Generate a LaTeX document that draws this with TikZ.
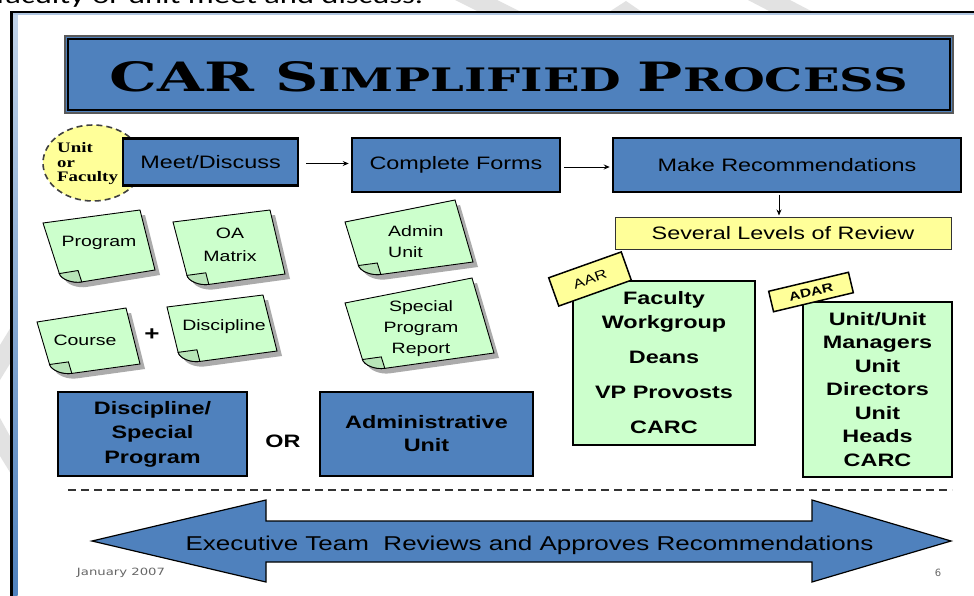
\documentclass[tikz,border=0pt]{standalone}
\usepackage{fontspec}
\usepackage{graphicx}
\usetikzlibrary{calc,arrows.meta,shapes.geometric}

\newfontfamily\aw{Liberation Sans}[FakeStretch=1.3]
\newfontfamily\tw{Liberation Serif}[FakeStretch=1.3]
\newfontfamily\cw{Carlito}
\newfontfamily\vw{DejaVu Sans}
\newfontfamily\dw{DejaVu Serif}

\definecolor{slideblue}{HTML}{4F81BD}
\definecolor{notegreen}{HTML}{CCFFCC}
\definecolor{tagyellow}{HTML}{FFFF99}
\definecolor{wmgray}{HTML}{E2E2E2}

\tikzset{
  procbox/.style={draw=black, line width=2.5pt, fill=slideblue, inner sep=0pt,
    font=\aw\fontsize{18}{22}\selectfont},
  basebox/.style={draw=black, line width=2pt, fill=slideblue, inner sep=0pt,
    align=center, font=\aw\bfseries\fontsize{18}{24.5}\selectfont},
  reviewbox/.style={draw=black, line width=2pt, fill=notegreen, inner sep=0pt,
    align=center},
  tagbox/.style={draw=black, line width=1.5pt, fill=tagyellow, inner sep=0pt},
  notetext/.style={font=\aw\fontsize{15}{21}\selectfont, align=center, inner sep=0pt},
  noteline/.style={draw=black, line width=0.9pt},
  flowarrow/.style={-{Stealth[length=6pt,width=5pt]}, line width=0.9pt},
}

% tilted sticky note: corners top-left, top-right, bottom-right, bottom-left
\newcommand\stickynote[4]{%
  \coordinate (sTL) at #1;
  \coordinate (sTR) at #2;
  \coordinate (sBR) at #3;
  \coordinate (sBL) at #4;
  \coordinate (sA) at ($(sBL)!19pt!(sBR)$);
  \coordinate (sB) at ($(sBL)!12pt!(sTL)$);
  \coordinate (sC) at ($(sA)+(sB)-(sBL)$);
  \fill[black!55, opacity=0.6, transform canvas={shift={(5pt,-5pt)}}]
    (sTL) -- (sTR) -- (sBR) -- (sA)
    .. controls ($(sA)!0.5!(sBL)$) and ($(sB)!0.5!(sBL)$) .. (sB) -- cycle;
  \path[noteline, fill=notegreen]
    (sTL) -- (sTR) -- (sBR) -- (sA)
    .. controls ($(sA)!0.5!(sBL)$) and ($(sB)!0.5!(sBL)$) .. (sB) -- cycle;
  \path[noteline, fill=notegreen!90!black]
    (sB) -- (sC) -- (sA)
    .. controls ($(sA)!0.5!(sBL)$) and ($(sB)!0.5!(sBL)$) .. (sB) -- cycle;
}

\begin{document}
\begin{tikzpicture}[x=1pt, y=-1pt]
\useasboundingbox (0,0) rectangle (974,596);
\fill[white] (0,0) rectangle (974,596);

% faint watermark strokes behind the slide
\fill[wmgray] (455,0) -- (497,0) -- (521,12) -- (479,12) -- cycle;
\fill[wmgray] (609,12) -- (626,1) -- (642,12) -- cycle;
\fill[wmgray] (748,0) -- (790,0) -- (813,12) -- (771,12) -- cycle;
\fill[wmgray] (0,345) -- (11,327) -- (11,362) -- (0,380) -- cycle;
\fill[wmgray] (0,418) -- (11,438) -- (11,474) -- (0,456) -- cycle;

% line of text above the slide
\node[anchor=base west, inner sep=0pt, font=\cw\fontsize{24}{24}\selectfont] (caption) at (-4,4)
  {\resizebox{427pt}{\height}{faculty or unit meet and discuss.}};

% slide
\fill[white] (12,12) rectangle (990,610);
\shade[top color=slideblue!35!white, bottom color=slideblue] (13,14) rectangle (17.5,600);
\fill[slideblue!45!white] (13,13) rectangle (990,14.8);
\draw[black, line width=3.2pt] (11.6,610) -- (11.6,12);
\draw[black, line width=2.2pt] (10,12) -- (990,12);

% title banner
\node[fill=slideblue, draw=black!65, line width=1.2pt, minimum width=888pt, minimum height=77pt,
  inner sep=0pt] (banner) at (509,74.5) {};
\draw[black, line width=2.6pt] ([shift={(3.5pt,-3.5pt)}]banner.north west) rectangle ([shift={(-3.5pt,3.5pt)}]banner.south east);
\node[inner sep=0pt, font=\dw\bfseries] (title) at (509,77)
  {\resizebox{798pt}{30pt}{\fontsize{40}{40}\selectfont CAR S\fontsize{32}{32}\selectfont IMPLIFIED
   \fontsize{40}{40}\selectfont P\fontsize{32}{32}\selectfont ROCESS}};

% who meets
\node[ellipse, draw=black!75, dash pattern=on 6pt off 4pt, line width=1.6pt, fill=tagyellow,
  minimum width=100pt, minimum height=76pt, inner sep=0pt] (who) at (93,163) {};
\node[anchor=west, align=left, inner sep=0pt, font=\tw\bfseries\fontsize{14.5}{14.5}\selectfont]
  (whotext) at (57,164) {Unit\\or\\Faculty};

% main process steps
\node[procbox, minimum width=175pt, minimum height=47pt] (meet) at (210.5,162) {Meet/Discuss};
\node[procbox, minimum width=208pt, minimum height=54pt] (forms) at (456,165) {Complete Forms};
\node[procbox, minimum width=348pt, minimum height=54pt] (recs) at (787,165) {Make Recommendations};
\node[draw=black!80, line width=1pt, fill=tagyellow, minimum width=336pt, minimum height=32pt,
  inner sep=0pt, font=\aw\fontsize{18}{22}\selectfont] (levels) at (783,233) {Several Levels of Review};

\draw[flowarrow, shorten <=7pt, shorten >=2pt] ([yshift=-1.5pt]meet.east) -- ([yshift=-1.5pt]meet.east -| forms.west);
\draw[flowarrow, shorten <=3pt, shorten >=2pt] ([yshift=-2pt]forms.east) -- ([yshift=-2pt]forms.east -| recs.west);
\draw[flowarrow, shorten <=1.5pt, shorten >=1pt] ([xshift=-8pt]recs.south) -- ([xshift=-8pt]recs.south |- levels.north);

% report forms
\stickynote{(43,223)}{(140,210)}{(155,270)}{(63,285)}
\node[notetext] (program) at (99,243) {Program};
\stickynote{(173,222)}{(270,210)}{(285,274)}{(190,287)}
\node[notetext, font=\aw\fontsize{15}{23}\selectfont] (oamatrix) at (230,245) {OA\\Matrix};
\stickynote{(37,322)}{(126,308)}{(140,364)}{(53,376)}
\node[notetext] (course) at (85,340) {Course};
\stickynote{(167,307)}{(263,295)}{(277,351)}{(181,364)}
\node[notetext] (discipline) at (224,327) {Discipline};
\node[inner sep=0pt, font=\aw\bfseries\fontsize{20}{20}\selectfont] (plus) at (152,335) {+};
\stickynote{(345,222)}{(455,200)}{(473,262)}{(362,277)}
\node[notetext, align=left, anchor=west] (adminnote) at (388,242) {Admin\\Unit};
\stickynote{(345,303)}{(472,278)}{(494,353)}{(366,371)}
\node[notetext] (specialnote) at (421,329) {Special\\Program\\Report};

% report types
\node[basebox, minimum width=189pt, minimum height=84pt] (discbox) at (152.5,434)
  {Discipline/\\Special\\Program};
\node[inner sep=0pt, font=\aw\bfseries\fontsize{18}{22}\selectfont] (or) at (283,441) {OR};
\node[basebox, minimum width=213pt, minimum height=84pt, font=\aw\bfseries\fontsize{18}{23}\selectfont]
  (adminbox) at (426.5,434) {Administrative\\Unit};

% review levels
\node[reviewbox, minimum width=182pt, minimum height=164pt, font=\aw\bfseries\fontsize{18}{24}\selectfont]
  (aar) at (664,363) {Faculty\\Workgroup\\[11pt]Deans\\[11pt]VP Provosts\\[11pt]CARC};
\node[reviewbox, minimum width=149pt, minimum height=175pt, font=\aw\bfseries\fontsize{18}{23.5}\selectfont]
  (adar) at (877.5,389.5) {Unit/Unit\\Managers\\Unit\\Directors\\Unit\\Heads\\CARC};
\node[tagbox, rotate=19.6, minimum width=77pt, minimum height=30pt, font=\aw\fontsize{13}{13}\selectfont]
  (aartag) at (590,279) {AAR};
\node[tagbox, rotate=13.4, minimum width=82pt, minimum height=21pt, font=\aw\bfseries\fontsize{12}{12}\selectfont]
  (adartag) at (811,292) {ADAR};

% separator
\coordinate (sepL) at (68,490);
\coordinate (sepR) at (952,490);
\draw[black!80, line width=1.3pt, dash pattern=on 8pt off 5pt] (sepL) -- (sepR);

% executive team arrow
\draw[fill=slideblue, draw=black, line width=1.2pt]
  (92,541) -- (266,500) -- (266,521) -- (812,521) -- (812,500) -- (951,541)
  -- (812,582) -- (812,562) -- (266,562) -- (266,582) -- cycle;
\node[inner sep=0pt, font=\aw\fontsize{20}{24}\selectfont] (exec) at (529.5,545)
  {Executive Team\ \ Reviews and Approves Recommendations};

% footer
\node[inner sep=0pt, text=black!60, font=\vw\fontsize{10}{12}\selectfont] (date) at (121,573)
  {\resizebox{88pt}{\height}{January 2007}};
\node[inner sep=0pt, text=black!60, font=\vw\fontsize{10}{12}\selectfont] (page) at (938,573) {6};
\end{tikzpicture}
\end{document}
